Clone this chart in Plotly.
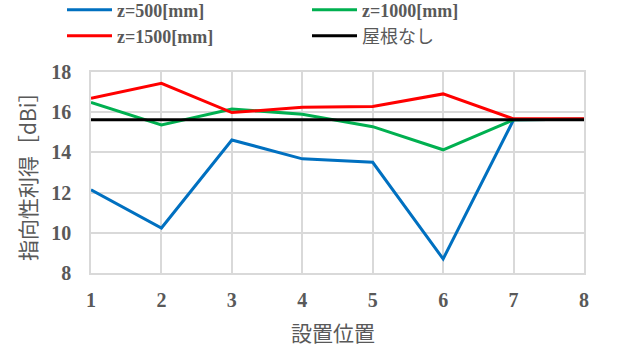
import plotly.graph_objects as go

positions = [1, 2, 3, 4, 5, 6, 7, 8]
z500 = [12.14, 10.24, 14.62, 13.68, 13.51, 8.70, 15.62, 15.65]
z1000 = [16.49, 15.37, 16.16, 15.90, 15.28, 14.13, 15.62, 15.65]
z1500 = [16.69, 17.44, 15.98, 16.25, 16.28, 16.91, 15.67, 15.68]
no_roof = [15.62] * 8

series_names = ["<b>z=500[mm]</b>", "<b>z=1000[mm]</b>", "<b>z=1500[mm]</b>", "屋根なし"]
series_colors = ["#0070C0", "#00B050", "#FF0000", "#000000"]
series_values = [z500, z1000, z1500, no_roof]
series_legend = ["legend", "legend2", "legend3", "legend4"]
x_ticks = [1, 2, 3, 4, 5, 6, 7, 8]
y_ticks = [8, 10, 12, 14, 16, 18]
x_title = "設置位置"
y_title = "指向性利得［dBi］"

gray = "#595959"
grid = "#D9D9D9"
serif = "Liberation Serif, Noto Sans CJK JP"
cjk = "Noto Sans CJK JP"

fig = go.Figure()
for name, color, vals, lg in zip(series_names, series_colors, series_values, series_legend):
    fig.add_trace(go.Scatter(x=positions, y=vals, mode="lines", name=name, legend=lg,
                             line=dict(color=color, width=3)))

legend_common = dict(orientation="v", xref="container", yref="container",
                     xanchor="left", yanchor="middle", itemwidth=45,
                     font=dict(family=serif, size=18, color=gray),
                     bgcolor="rgba(0,0,0,0)")

W, H = 618, 347
L, R, T, B = 91, 34, 72, 74
PW, PH = W - L - R, H - T - B
col1, col2 = 62, 307
row1, row2 = 10, 36

fig.update_layout(
    width=W, height=H,
    margin=dict(l=L, r=R, t=T, b=B, autoexpand=False),
    paper_bgcolor="white", plot_bgcolor="white",
    showlegend=True,
    legend=dict(x=col1 / W, y=1 - row1 / H, **legend_common),
    legend2=dict(x=col2 / W, y=1 - row1 / H, **legend_common),
    legend3=dict(x=col1 / W, y=1 - row2 / H, **legend_common),
    legend4=dict(x=col2 / W, y=1 - row2 / H, **legend_common),
    xaxis=dict(range=[1, 8], tickvals=x_ticks, showgrid=True, gridcolor=grid, gridwidth=1.5,
               showline=True, linecolor=grid, linewidth=1.5, mirror=True, zeroline=False,
               ticks="outside", ticklen=8, tickcolor="rgba(0,0,0,0)",
               tickfont=dict(family=serif, size=20, color=gray, weight="bold")),
    yaxis=dict(range=[8, 18], tickvals=y_ticks, showgrid=True, gridcolor=grid, gridwidth=1.5,
               showline=True, linecolor=grid, linewidth=1.5, mirror=True, zeroline=False,
               ticks="outside", ticklen=14, tickcolor="rgba(0,0,0,0)",
               tickfont=dict(family=serif, size=20, color=gray, weight="bold")),
    annotations=[
        dict(text=x_title, xref="paper", yref="paper", x=(333 - L) / PW, y=-(332 - (H - B)) / PH,
             yanchor="middle", xanchor="center", showarrow=False,
             font=dict(family=cjk, size=21, color=gray)),
        dict(text=y_title, xref="paper", yref="paper", x=-(L - 27) / PW, y=1 - (171 - T) / PH,
             xanchor="center", yanchor="middle", textangle=-90, showarrow=False,
             font=dict(family=cjk, size=21, color=gray)),
    ],
)

fig.write_html("out.html", config={"displayModeBar": False},
               post_script="document.body.style.margin='0';")
